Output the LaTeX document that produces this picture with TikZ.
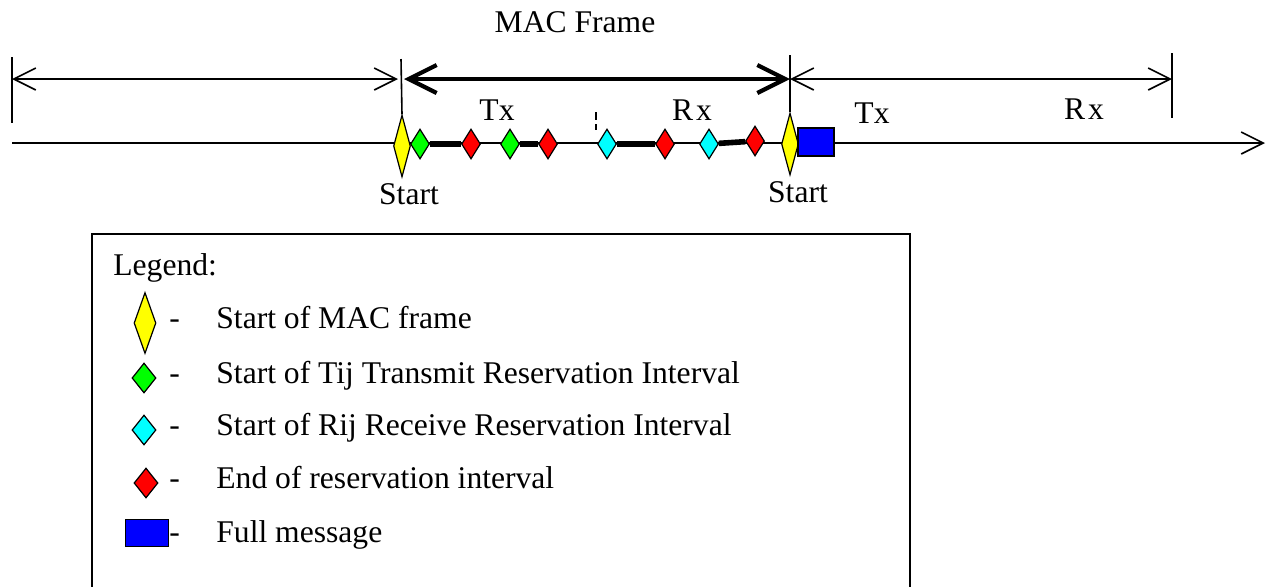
\documentclass[tikz,border=0pt]{standalone}
\usepackage{fontspec}
\setmainfont{Liberation Serif}
\usetikzlibrary{arrows.meta}
\usetikzlibrary{shapes.geometric}
\definecolor{startfill}{RGB}{255,255,0}
\definecolor{txfill}{RGB}{0,255,0}
\definecolor{rxfill}{RGB}{0,255,255}
\definecolor{endfill}{RGB}{255,0,0}
\definecolor{msgfill}{RGB}{0,0,255}

\begin{document}
\begin{tikzpicture}[x=0.5pt,y=-0.5pt,
      font=\fontsize{15.8}{19}\selectfont,
      >={Straight Barb[length=11pt,width=11pt]},
      axis/.style={line width=0.8pt,->},
      dim/.style={line width=0.8pt,<->},
      frame/.style={line width=2.1pt,<->,
        >={Straight Barb[length=14pt,width=14pt]}},
      tick/.style={line width=0.8pt},
      busy/.style={line width=2.8pt},
      marker/.style={diamond,draw,line width=0.6pt,inner sep=0pt},
      startmk/.style={marker,fill=startfill,
        minimum width=8.5pt,minimum height=31pt},
      txmk/.style={marker,fill=txfill,
        minimum width=9.5pt,minimum height=15pt},
      rxmk/.style={marker,fill=rxfill,
        minimum width=9.5pt,minimum height=15pt},
      endmk/.style={marker,fill=endfill,
        minimum width=9.5pt,minimum height=15pt},
      msg/.style={rectangle,draw,fill=msgfill,inner sep=0pt,line width=0.8pt},
      legtext/.style={anchor=base west,inner sep=0pt}]

    \useasboundingbox (0,0) rectangle (1273,586);

    % time axis
    \coordinate (axisL) at (12,143);
    \coordinate (axisR) at (1265,143);
    \draw[axis] (axisL) -- (axisR);

    % markers on the axis
    \node[startmk] (start1) at (402,146) {};
    \node[txmk]    (tx1)    at (420,144) {};
    \node[endmk]   (end1)   at (471,144) {};
    \node[txmk]    (tx2)    at (510,144) {};
    \node[endmk]   (end2)   at (548,144) {};
    \node[rxmk]    (rx1)    at (607,144) {};
    \node[endmk]   (end3)   at (665,144) {};
    \node[rxmk]    (rx2)    at (709,144) {};
    \node[endmk]   (end4)   at (755,141) {};
    \node[startmk] (start2) at (790,144) {};
    \node[msg,minimum width=18pt,minimum height=14pt]
      (full) at (816,142) {};

    % reservation intervals
    \draw[busy] (tx1) -- (end1);
    \draw[busy] (tx2) -- (end2);
    \draw[busy] (rx1) -- (end3);
    \draw[busy] (rx2) -- (end4);

    \coordinate (gapT) at (596,112);
    \coordinate (gapB) at (596,130);
    \draw[line width=0.6pt,dash pattern=on 4pt off 2pt] (gapT) -- (gapB);

    % frame boundaries
    \coordinate (tickA)  at (12,57);
    \coordinate (tickAb) at (12,123);
    \coordinate (tickB)  at (401,59);
    \coordinate (tickC)  at (790,55);
    \coordinate (tickD)  at (1172,53);
    \coordinate (tickDb) at (1172,118);
    \draw[tick] (tickA) -- (tickAb);
    \draw[tick] (tickB) -- (start1.north);
    \draw[tick] (tickC) -- (start2.north);
    \draw[tick] (tickD) -- (tickDb);

    \coordinate (dimA) at (12,79);
    \coordinate (dimB) at (398,79);
    \coordinate (dimC) at (404,79);
    \coordinate (dimD) at (790,79);
    \coordinate (dimE) at (1172,79);
    \draw[dim]   (dimA) -- (dimB);
    \draw[frame] (dimC) -- (dimD);
    \draw[dim]   (dimD) -- (dimE);

    % labels
    \node (frameLbl) at (575,22) {MAC Frame};
    \node (txLbl1)   at (497,110) {Tx};
    \node (rxLbl1)   at (692,110) {R\kern1.5pt x};
    \node (txLbl2)   at (872,113) {Tx};
    \node (rxLbl2)   at (1084,109) {R\kern1.5pt x};
    \node (startLbl1) at (409,194) {Start};
    \node (startLbl2) at (798,192) {Start};

    % legend
    \coordinate (boxBL) at (92,590);
    \coordinate (boxTL) at (92,234);
    \coordinate (boxTR) at (910,234);
    \coordinate (boxBR) at (910,590);
    \draw[line width=0.8pt] (boxBL) -- (boxTL) -- (boxTR) -- (boxBR);

    \node[legtext] (legTitle) at (113,275) {Legend:};

    \node[startmk,minimum width=11pt,minimum height=30.5pt]
      (keyStart) at (145,323) {};
    \node[txmk,minimum width=12pt]  (keyTx)  at (144,378) {};
    \node[rxmk,minimum width=12pt]  (keyRx)  at (144,430) {};
    \node[endmk,minimum width=12pt] (keyEnd) at (146,483) {};
    \node[msg,minimum width=21.5pt,minimum height=13.5pt]
      (keyMsg) at (147,533) {};

    \node[legtext] (dashStart) at (169,328) {-};
    \node[legtext] (dashTx)    at (169,383) {-};
    \node[legtext] (dashRx)    at (169,435) {-};
    \node[legtext] (dashEnd)   at (169,488) {-};
    \node[legtext] (dashMsg)   at (169,542) {-};

    \node[legtext] (txtStart) at (216,328) {Start of MAC frame};
    \node[legtext] (txtTx)    at (216,383) {Start of Tij Transmit Reservation Interval};
    \node[legtext] (txtRx)    at (216,435) {Start of Rij Receive Reservation Interval};
    \node[legtext] (txtEnd)   at (216,488) {End of reservation interval};
    \node[legtext] (txtMsg)   at (216,542) {Full message};

  \end{tikzpicture}
\end{document}
